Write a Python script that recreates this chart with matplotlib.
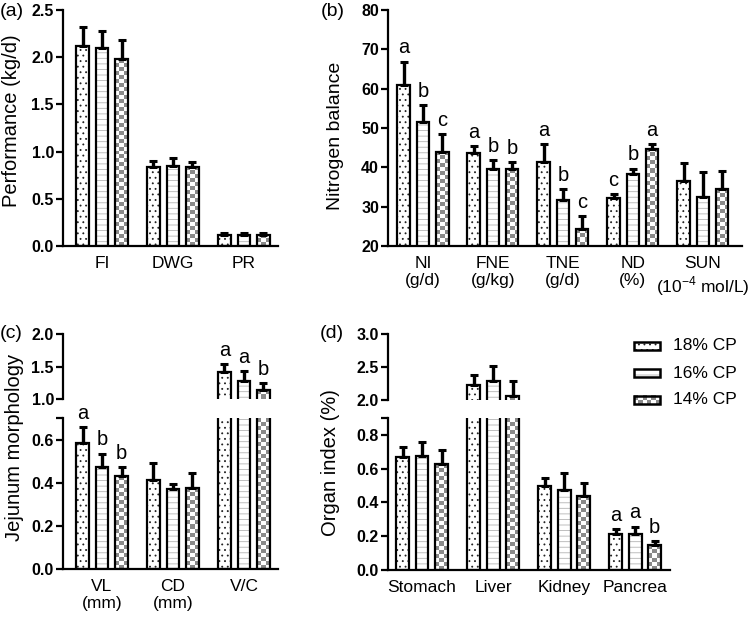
import numpy as np
import matplotlib
matplotlib.use('Agg')
import matplotlib.pyplot as plt
from matplotlib.colors import ListedColormap
from matplotlib.patches import Rectangle

plt.rcParams['font.family'] = 'Liberation Sans'
plt.rcParams['mathtext.fontset'] = 'custom'
plt.rcParams['mathtext.rm'] = 'Liberation Sans'
plt.rcParams['hatch.linewidth'] = 0.6

groups = ['18% CP', '16% CP', '14% CP']

# (a) performance
perf_cats = ['FI', 'DWG', 'PR']
perf_mean = [[2.12, 2.10, 1.98], [0.84, 0.85, 0.84], [0.12, 0.12, 0.12]]
perf_se = [[0.20, 0.18, 0.20], [0.06, 0.08, 0.05], [0.02, 0.02, 0.02]]

# (b) nitrogen balance
nb_cats = ['NI\n(g/d)', 'FNE\n(g/kg)', 'TNE\n(g/d)', 'ND\n(%)',
           'SUN\n(10$^{-4}$ mol/L)']
nb_mean = [[61.0, 51.4, 44.0], [43.6, 39.5, 39.5], [41.4, 31.7, 24.4],
           [32.2, 38.3, 44.7], [36.5, 32.5, 34.4]]
nb_se = [[5.9, 4.4, 4.4], [1.9, 2.3, 1.8], [4.5, 2.7, 3.1],
         [1.1, 1.4, 1.2], [4.5, 6.3, 4.6]]
nb_letters = [['a', 'b', 'c'], ['a', 'b', 'b'], ['a', 'b', 'c'],
              ['c', 'b', 'a'], ['', '', '']]

# (c) jejunum morphology
jm_cats = ['VL\n(mm)', 'CD\n(mm)', 'V/C']
jm_mean = [[0.585, 0.474, 0.431], [0.412, 0.369, 0.375], [1.41, 1.28, 1.14]]
jm_se = [[0.073, 0.061, 0.043], [0.079, 0.026, 0.068], [0.13, 0.15, 0.10]]
jm_letters = [['a', 'b', 'b'], ['', '', ''], ['a', 'a', 'b']]

# (d) organ index
oi_cats = ['Stomach', 'Liver', 'Kidney', 'Pancrea']
oi_mean = [[0.667, 0.676, 0.625], [2.22, 2.29, 2.055],
           [0.496, 0.476, 0.437], [0.216, 0.216, 0.147]]
oi_se = [[0.064, 0.083, 0.083], [0.16, 0.23, 0.235],
         [0.051, 0.097, 0.081], [0.025, 0.041, 0.026]]
oi_letters = [['', '', ''], ['', '', ''], ['', '', ''], ['a', 'a', 'b']]

W, H = 750, 619
offsets = [-0.275, 0.0, 0.275]
width = 0.18
hatches = ['...', '---', None]
hatch_colors = ['#222222', '#b4b4b4', None]
checker_cmap = ListedColormap(['white', '#8a8a8a'])

fig = plt.figure(figsize=(W / 100, H / 100), dpi=100)


def px_axes(l, t, r, b):
    return fig.add_axes([l / W, 1 - b / H, (r - l) / W, (b - t) / H])


def checker(ax, x0, x1, y0, y1, transform=None, cell=4.0):
    tr = transform if transform is not None else ax.transData
    (px0, py0), (px1, py1) = tr.transform([(x0, y0), (x1, y1)])
    nx = max(1, int(round(abs(px1 - px0) / cell)))
    ny = max(1, int(round(abs(py1 - py0) / cell)))
    grid = np.indices((ny, nx)).sum(axis=0) % 2
    im = ax.imshow(grid, cmap=checker_cmap, vmin=0, vmax=1, origin='lower',
                   extent=(x0, x1, y0, y1), aspect='auto',
                   interpolation='nearest', transform=tr, zorder=2)
    return im


def style_axes(ax, xlim, ylim, yticks, ylabels, cats=None, top_part=False):
    ax.set_xlim(*xlim)
    ax.set_ylim(*ylim)
    for s in ['top', 'right']:
        ax.spines[s].set_visible(False)
    for s in ['left', 'bottom']:
        ax.spines[s].set_linewidth(1.6)
    ax.set_yticks(yticks, ylabels, fontsize=11.5, fontweight='bold')
    ax.tick_params(axis='y', width=1.6, length=5, pad=1.5)
    if top_part:
        ax.spines['bottom'].set_visible(False)
        ax.tick_params(axis='x', bottom=False, labelbottom=False)
    else:
        ax.set_xticks(np.arange(len(cats)), cats, fontsize=12.5)
        ax.tick_params(axis='x', length=0, pad=7)


def draw_bars(ax, means, ses, letters=None):
    means = np.asarray(means)
    ses = np.asarray(ses)
    x = np.arange(len(means))
    ylo, yhi = ax.get_ylim()
    for j in range(3):
        xs = x + offsets[j]
        if hatches[j]:
            ax.bar(xs, means[:, j], width, color='white', edgecolor=hatch_colors[j],
                   hatch=hatches[j], linewidth=0, zorder=2)
        else:
            for xi, m in zip(xs, means[:, j]):
                bot, top = max(0, ylo), min(m, yhi)
                if top > bot:
                    checker(ax, xi - width / 2, xi + width / 2, bot, top)
        ax.bar(xs, means[:, j], width, fill=False, edgecolor='black',
               linewidth=1.6, zorder=3)
        ax.errorbar(xs, means[:, j], yerr=[np.zeros(len(x)), ses[:, j]], fmt='none',
                    ecolor='black', elinewidth=2.4, capsize=3, capthick=2.2, zorder=4)
        if letters is None:
            continue
        for i, xi in enumerate(xs):
            top = means[i, j] + ses[i, j]
            if letters[i][j] and ylo <= top <= yhi:
                ax.annotate(letters[i][j], (xi, top), xytext=(0, 3),
                            textcoords='offset points', ha='center', va='bottom',
                            fontsize=14.5, annotation_clip=False)
    ax.set_ylim(ylo, yhi)


def fmt(vals):
    return [f'{v:.1f}' for v in vals]


# (a)
ax_a = px_axes(63, 10, 278, 246)
style_axes(ax_a, (-0.55, 2.48), (0, 2.5), np.arange(0, 2.51, 0.5),
           fmt(np.arange(0, 2.51, 0.5)), perf_cats)
draw_bars(ax_a, perf_mean, perf_se)
ax_a.set_xlim(-0.55, 2.48)

# (b)
ax_b = px_axes(388, 10, 742, 246)
style_axes(ax_b, (-0.5, 4.56), (20, 80), np.arange(20, 81, 10),
           [str(v) for v in range(20, 81, 10)], nb_cats)
draw_bars(ax_b, nb_mean, nb_se, nb_letters)
ax_b.set_xlim(-0.5, 4.56)

# (c) broken axis
ax_c_hi = px_axes(63, 334, 278, 399)
ax_c_lo = px_axes(63, 418, 278, 569)
style_axes(ax_c_hi, (-0.55, 2.48), (1.0, 2.0), [1.0, 1.5, 2.0],
           fmt([1.0, 1.5, 2.0]), top_part=True)
style_axes(ax_c_lo, (-0.55, 2.48), (0, 0.7), [0, 0.2, 0.4, 0.6, 0.7],
           fmt([0, 0.2, 0.4, 0.6]) + [''], jm_cats)
for ax in (ax_c_hi, ax_c_lo):
    draw_bars(ax, jm_mean, jm_se, jm_letters)
    ax.set_xlim(-0.55, 2.48)

# (d) broken axis
ax_d_hi = px_axes(388, 334, 670, 400)
ax_d_lo = px_axes(388, 418, 670, 570)
style_axes(ax_d_hi, (-0.48, 3.49), (2.0, 3.0), [2.0, 2.5, 3.0],
           fmt([2.0, 2.5, 3.0]), top_part=True)
style_axes(ax_d_lo, (-0.48, 3.49), (0, 0.9), [0, 0.2, 0.4, 0.6, 0.8, 0.9],
           fmt([0, 0.2, 0.4, 0.6, 0.8]) + [''], oi_cats)
for ax in (ax_d_hi, ax_d_lo):
    draw_bars(ax, oi_mean, oi_se, oi_letters)
    ax.set_xlim(-0.48, 3.49)

# legend drawn by hand so the checker pattern shows
for k, name in enumerate(groups):
    cy = 346 + 27 * k
    x0, x1 = 634 / W, 660 / W
    y0, y1 = 1 - (cy + 4) / H, 1 - (cy - 4) / H
    if hatches[k]:
        fig.add_artist(Rectangle((x0, y0), x1 - x0, y1 - y0, transform=fig.transFigure,
                                 facecolor='white', edgecolor=hatch_colors[k],
                                 hatch=hatches[k], linewidth=0))
    else:
        im = checker(ax_d_hi, x0, x1, y0, y1, transform=fig.transFigure)
        im.set_clip_on(False)
    fig.add_artist(Rectangle((x0, y0), x1 - x0, y1 - y0, transform=fig.transFigure,
                             fill=False, edgecolor='black', linewidth=1.8))
    fig.text(673 / W, 1 - cy / H, name, fontsize=12.5, va='center', ha='left')
ax_d_hi.set_xlim(-0.48, 3.49)
ax_d_hi.set_ylim(2.0, 3.0)

# y labels and panel tags
fig.text(11.5 / W, 1 - 121 / H, 'Performance (kg/d)', rotation=90,
         ha='center', va='center', fontsize=14.5)
fig.text(336 / W, 1 - 136 / H, 'Nitrogen balance', rotation=90,
         ha='center', va='center', fontsize=14)
fig.text(14.5 / W, 1 - 447 / H, 'Jejunum morphology', rotation=90,
         ha='center', va='center', fontsize=14.5)
fig.text(331 / W, 1 - 463 / H, 'Organ index (%)', rotation=90,
         ha='center', va='center', fontsize=14.5)
for tag, (px, py) in zip(['(a)', '(b)', '(c)', '(d)'],
                         [(12, 11.5), (333, 11.5), (11, 334), (332, 334)]):
    fig.text(px / W, 1 - py / H, tag, ha='center', va='center', fontsize=14)

fig.savefig('out.png', dpi=100)
